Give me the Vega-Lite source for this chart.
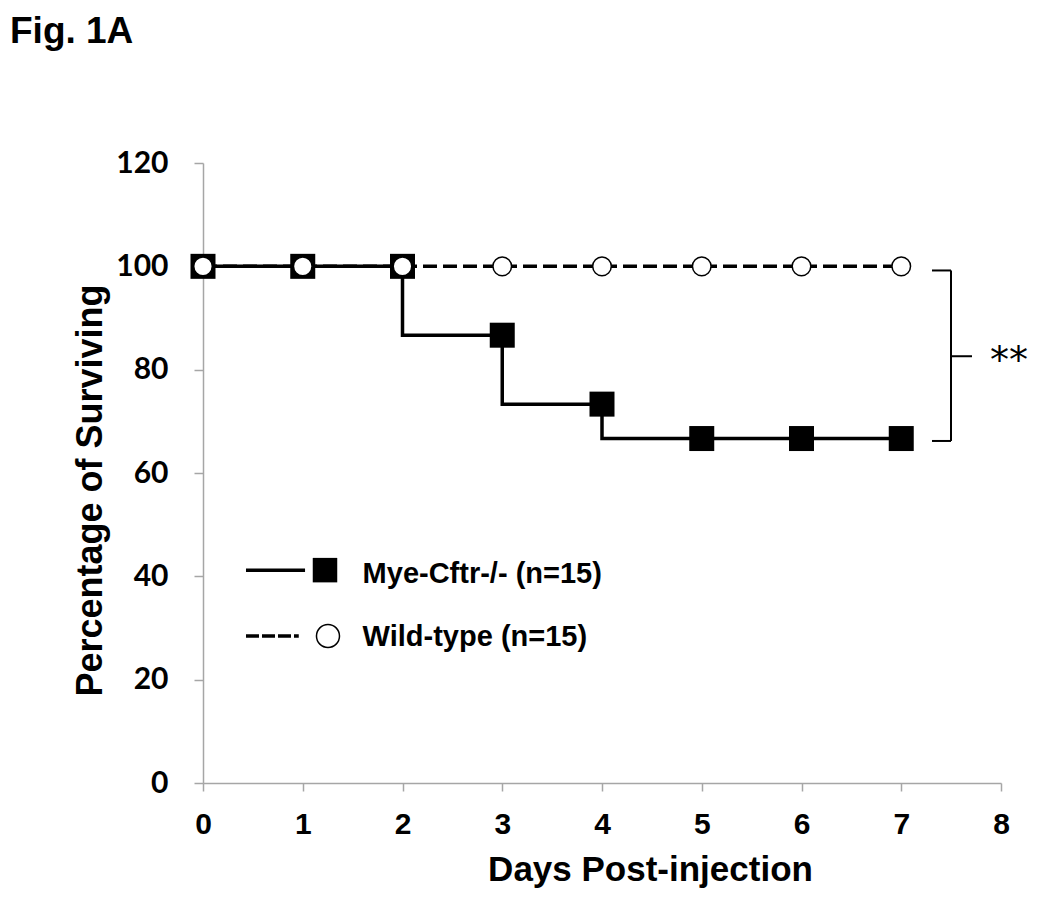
{
  "$schema": "https://vega.github.io/schema/vega-lite/v6.json",
  "width": 798,
  "height": 620,
  "autosize": "none",
  "padding": {"left": 203, "top": 163, "right": 49, "bottom": 115},
  "background": "white",
  "title": {
    "text": "Fig. 1A",
    "anchor": "start",
    "frame": "group",
    "font": "Liberation Sans",
    "fontSize": 37,
    "fontWeight": "bold",
    "color": "black",
    "baseline": "alphabetic",
    "offset": 68,
    "dx": -193
  },
  "config": {
    "view": {"stroke": null},
    "font": "Liberation Sans",
    "axis": {"grid": false}
  },
  "datasets": {
    "surv": [
      {"day": 0, "group": "Mye-Cftr-/-", "surv": 100},
      {"day": 1, "group": "Mye-Cftr-/-", "surv": 100},
      {"day": 2, "group": "Mye-Cftr-/-", "surv": 100},
      {"day": 3, "group": "Mye-Cftr-/-", "surv": 86.67},
      {"day": 4, "group": "Mye-Cftr-/-", "surv": 73.33},
      {"day": 5, "group": "Mye-Cftr-/-", "surv": 66.67},
      {"day": 6, "group": "Mye-Cftr-/-", "surv": 66.67},
      {"day": 7, "group": "Mye-Cftr-/-", "surv": 66.67},
      {"day": 0, "group": "Wild-type", "surv": 100},
      {"day": 1, "group": "Wild-type", "surv": 100},
      {"day": 2, "group": "Wild-type", "surv": 100},
      {"day": 3, "group": "Wild-type", "surv": 100},
      {"day": 4, "group": "Wild-type", "surv": 100},
      {"day": 5, "group": "Wild-type", "surv": 100},
      {"day": 6, "group": "Wild-type", "surv": 100},
      {"day": 7, "group": "Wild-type", "surv": 100}
    ]
  },
  "layer": [
    {
      "data": {"name": "surv"},
      "transform": [{"filter": "datum.group === 'Mye-Cftr-/-'"}],
      "mark": {"type": "line", "interpolate": "step-before", "color": "black", "strokeWidth": 3.5},
      "encoding": {
        "x": {
          "field": "day",
          "type": "quantitative",
          "scale": {"domain": [0, 8], "nice": false, "zero": false},
          "axis": {
            "values": [0, 1, 2, 3, 4, 5, 6, 7, 8],
            "format": "d",
            "domainColor": "#a6a6a6",
            "domainWidth": 1.5,
            "tickColor": "#a6a6a6",
            "tickWidth": 1.5,
            "tickSize": 8,
            "labelFont": "Liberation Sans",
            "labelFontWeight": "bold",
            "labelFontSize": 30,
            "labelColor": "black",
            "labelPadding": 18,
            "labelFlush": false,
            "title": "Days Post-injection",
            "titleFont": "Liberation Sans",
            "titleFontSize": 35,
            "titleFontWeight": "bold",
            "titleColor": "black",
            "titleX": 447,
            "titleY": 97,
            "titleAlign": "center",
            "titleBaseline": "alphabetic"
          }
        },
        "y": {
          "field": "surv",
          "type": "quantitative",
          "scale": {"domain": [0, 120], "nice": false, "zero": false},
          "axis": {
            "values": [0, 20, 40, 60, 80, 100, 120],
            "format": "d",
            "domainColor": "#a6a6a6",
            "domainWidth": 1.5,
            "tickColor": "#a6a6a6",
            "tickWidth": 1.5,
            "tickSize": 9,
            "labelFont": "Lato",
            "labelFontWeight": "bold",
            "labelFontSize": 30,
            "labelColor": "black",
            "labelPadding": 26,
            "labelFlush": false,
            "title": "Percentage of Surviving",
            "titleFont": "Liberation Sans",
            "titleFontSize": 36,
            "titleFontWeight": "bold",
            "titleColor": "black",
            "titleX": -102,
            "titleY": 327,
            "titleAngle": -90,
            "titleAlign": "center",
            "titleBaseline": "alphabetic"
          }
        }
      }
    },
    {
      "data": {"name": "surv"},
      "transform": [{"filter": "datum.group === 'Wild-type'"}],
      "mark": {"type": "line", "color": "black", "strokeWidth": 3.5, "strokeDash": [14, 6]},
      "encoding": {
        "x": {"field": "day", "type": "quantitative", "scale": {"domain": [0, 8]}},
        "y": {"field": "surv", "type": "quantitative", "scale": {"domain": [0, 120]}}
      }
    },
    {
      "data": {"name": "surv"},
      "transform": [{"filter": "datum.group === 'Mye-Cftr-/-'"}],
      "mark": {"type": "point", "shape": "square", "filled": true, "color": "black", "size": 625, "opacity": 1},
      "encoding": {
        "x": {"field": "day", "type": "quantitative", "scale": {"domain": [0, 8]}},
        "y": {"field": "surv", "type": "quantitative", "scale": {"domain": [0, 120]}}
      }
    },
    {
      "data": {"name": "surv"},
      "transform": [{"filter": "datum.group === 'Wild-type'"}],
      "mark": {"type": "point", "shape": "circle", "filled": true, "fill": "white", "stroke": "black", "strokeWidth": 1.5, "size": 346, "opacity": 1},
      "encoding": {
        "x": {"field": "day", "type": "quantitative", "scale": {"domain": [0, 8]}},
        "y": {"field": "surv", "type": "quantitative", "scale": {"domain": [0, 120]}}
      }
    },
    {
      "data": {"values": [{"label": "Mye-Cftr-/- (n=15)"}]},
      "mark": {"type": "rule", "color": "black", "strokeWidth": 3.5},
      "encoding": {"x": {"datum": 0.431}, "x2": {"datum": 1.023}, "y": {"datum": 41.2}}
    },
    {
      "data": {"values": [{"label": "Mye-Cftr-/- (n=15)"}]},
      "mark": {"type": "point", "shape": "square", "filled": true, "color": "black", "size": 600, "opacity": 1},
      "encoding": {"x": {"datum": 1.223}, "y": {"datum": 41.2}}
    },
    {
      "data": {"values": [{"label": "Mye-Cftr-/- (n=15)"}]},
      "mark": {"type": "text", "align": "left", "baseline": "middle", "font": "Liberation Sans", "fontWeight": "bold", "fontSize": 29, "color": "black"},
      "encoding": {"x": {"datum": 1.6}, "y": {"datum": 40.4}, "text": {"field": "label"}}
    },
    {
      "data": {"values": [{"label": "Wild-type (n=15)"}]},
      "mark": {"type": "rule", "color": "black", "strokeWidth": 3.5, "strokeDash": [13, 3]},
      "encoding": {"x": {"datum": 0.431}, "x2": {"datum": 0.96}, "y": {"datum": 28.45}}
    },
    {
      "data": {"values": [{"label": "Wild-type (n=15)"}]},
      "mark": {"type": "point", "shape": "circle", "filled": true, "fill": "white", "stroke": "black", "strokeWidth": 1.5, "size": 530, "opacity": 1},
      "encoding": {"x": {"datum": 1.253}, "y": {"datum": 28.45}}
    },
    {
      "data": {"values": [{"label": "Wild-type (n=15)"}]},
      "mark": {"type": "text", "align": "left", "baseline": "middle", "font": "Liberation Sans", "fontWeight": "bold", "fontSize": 29, "color": "black"},
      "encoding": {"x": {"datum": 1.6}, "y": {"datum": 28.2}, "text": {"field": "label"}}
    },
    {
      "data": {"values": [{"label": "**"}]},
      "mark": {"type": "rule", "color": "black", "strokeWidth": 2},
      "encoding": {"x": {"datum": 7.308}, "x2": {"datum": 7.499}, "y": {"datum": 99.2}}
    },
    {
      "data": {"values": [{"label": "**"}]},
      "mark": {"type": "rule", "color": "black", "strokeWidth": 2},
      "encoding": {"x": {"datum": 7.308}, "x2": {"datum": 7.499}, "y": {"datum": 66.2}}
    },
    {
      "data": {"values": [{"label": "**"}]},
      "mark": {"type": "rule", "color": "black", "strokeWidth": 2},
      "encoding": {"x": {"datum": 7.499}, "y": {"datum": 99.2}, "y2": {"datum": 66.2}}
    },
    {
      "data": {"values": [{"label": "**"}]},
      "mark": {"type": "rule", "color": "black", "strokeWidth": 2},
      "encoding": {"x": {"datum": 7.499}, "x2": {"datum": 7.709}, "y": {"datum": 82.6}}
    },
    {
      "data": {"values": [{"label": "**"}]},
      "mark": {"type": "text", "align": "left", "baseline": "middle", "font": "DejaVu Sans", "fontSize": 38, "color": "black", "dy": 6},
      "encoding": {"x": {"datum": 7.89}, "y": {"datum": 82.6}, "text": {"field": "label"}}
    }
  ]
}
